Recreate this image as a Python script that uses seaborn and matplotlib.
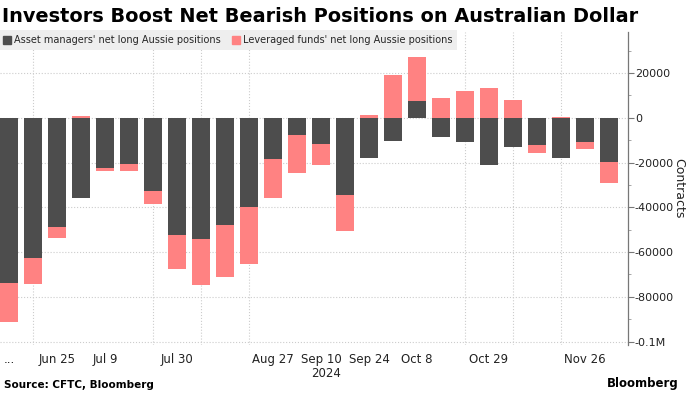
import numpy as np
import pandas as pd
import matplotlib
matplotlib.use("Agg")
import matplotlib.pyplot as plt
import seaborn as sns
from matplotlib.patches import Patch
from matplotlib.ticker import FixedLocator, MultipleLocator, FuncFormatter

# weekly CFTC data, Jun 11 - Dec 3 2024
weeks = ["Jun 11", "Jun 18", "Jun 25", "Jul 2", "Jul 9", "Jul 16", "Jul 23",
         "Jul 30", "Aug 6", "Aug 13", "Aug 20", "Aug 27", "Sep 3", "Sep 10",
         "Sep 17", "Sep 24", "Oct 1", "Oct 8", "Oct 15", "Oct 22", "Oct 29",
         "Nov 5", "Nov 12", "Nov 19", "Nov 26", "Dec 3"]
asset_mgrs = [-73700, -62550, -48750, -35850, -22350, -20700, -32850,
              -52500, -54000, -47700, -39900, -18600, -7800, -11550,
              -34350, -17850, -10350, 7350, -8550, -10950, -21300,
              -12900, -12150, -17850, -10950, -19800]
lev_funds = [-17600, -11700, -4950, 750, -1350, -3300, -5550,
             -14850, -20850, -23250, -25500, -17250, -16950, -9450,
             -16200, 1350, 18900, 19650, 8700, 12150, 13350,
             7950, -3750, 450, -2850, -9300]

tick_idx = [0, 2, 4, 7, 11, 13, 15, 17, 20, 24]
tick_labels = ["...", "Jun 25", "Jul 9", "Jul 30", "Aug 27", "Sep 10\n2024",
               "Sep 24", "Oct 8", "Oct 29", "Nov 26"]
grid_idx = [0, 1, 2, 4, 6, 7, 8, 10, 11, 13, 15, 17, 19, 20, 21, 23, 24]

DARK = "#4d4d4d"
PINK = "#ff8282"

df = pd.DataFrame({"week": weeks, "am": asset_mgrs, "lf": lev_funds})
# pink stacks on the dark bar when same sign, else starts from zero
df["lf_base"] = np.where(np.sign(df["am"]) == np.sign(df["lf"]), df["am"], 0)

sns.set_style("white")
plt.rcParams["font.family"] = ["DejaVu Sans"]

fig = plt.figure(figsize=(6.96, 3.93), dpi=100)
ax = fig.add_axes([0.0, 1 - 345 / 393, 628 / 696, (345 - 32) / 393])

sns.barplot(data=df, x="week", y="am", color=DARK, width=0.75,
            saturation=1, linewidth=0, ax=ax, zorder=3)
sns.barplot(data=df, x="week", y="lf", bottom=df["lf_base"].values,
            color=PINK, width=0.75, saturation=1, linewidth=0, ax=ax, zorder=3)

ax.set_xlim(-0.375, 25.79)
ax.set_ylim(-101500, 38300)

ax.yaxis.tick_right()
ax.yaxis.set_label_position("right")
ax.yaxis.set_major_locator(MultipleLocator(20000))
ax.yaxis.set_minor_locator(MultipleLocator(10000))
ax.yaxis.set_major_formatter(FuncFormatter(
    lambda v, p: "-0.1M" if v <= -100000 else f"{int(v)}"))
ax.tick_params(axis="y", which="major", length=4, width=0.8, color="#777777",
               labelsize=8, labelcolor="#222222", pad=1)
ax.tick_params(axis="y", which="minor", length=2.5, width=0.6, color="#999999")

ax.xaxis.set_major_locator(FixedLocator(tick_idx))
ax.set_xticklabels(tick_labels, ha="center", linespacing=1.1)
ax.xaxis.set_minor_locator(FixedLocator(grid_idx))
ax.tick_params(axis="x", which="both", length=3, width=0.6, color="#bbbbbb",
               labelsize=8.5, labelcolor="#222222", pad=3)
for lab in ax.get_xticklabels():
    lab.set_multialignment("right")

ax.grid(False)
ax.grid(axis="y", which="major", color="#cccccc", linestyle=":", linewidth=0.8, zorder=0)
ax.grid(axis="x", which="minor", color="#cccccc", linestyle=":", linewidth=0.8, zorder=0)
ax.set_axisbelow(True)

for s in ["left", "top", "bottom"]:
    ax.spines[s].set_visible(False)
ax.spines["right"].set_color("#777777")
ax.spines["right"].set_linewidth(0.9)

ax.set_xlabel("")
ax.set_ylabel("Contracts", rotation=270, fontsize=9, labelpad=8, color="#222222")

handles = [Patch(color=DARK, label="Asset managers' net long Aussie positions"),
           Patch(color=PINK, label="Leveraged funds' net long Aussie positions")]
leg = ax.legend(handles=handles, ncol=2, loc="upper left",
                bbox_to_anchor=(-0.003, 1.005), fontsize=7, frameon=True,
                fancybox=False, handlelength=0.8, handleheight=0.8,
                handletextpad=0.3, columnspacing=1.2, borderpad=0.5,
                borderaxespad=0)
leg.get_frame().set_facecolor("#eeeeee")
leg.get_frame().set_edgecolor("none")
leg.get_frame().set_alpha(1)
leg.set_zorder(5)

fig.text(0.003, 1 - 7 / 393, "Investors Boost Net Bearish Positions on Australian Dollar",
         fontsize=13.9, fontweight="bold", va="top", ha="left", color="#000000")
fig.text(0.006, 1 - 385 / 393, "Source: CFTC, Bloomberg", fontsize=7.5,
         fontweight="bold", va="center", ha="left", color="#000000")
fig.text(0.975, 1 - 384 / 393, "Bloomberg", fontsize=8.5, fontweight="bold",
         va="center", ha="right", color="#000000")

fig.savefig("out.png", dpi=100)
